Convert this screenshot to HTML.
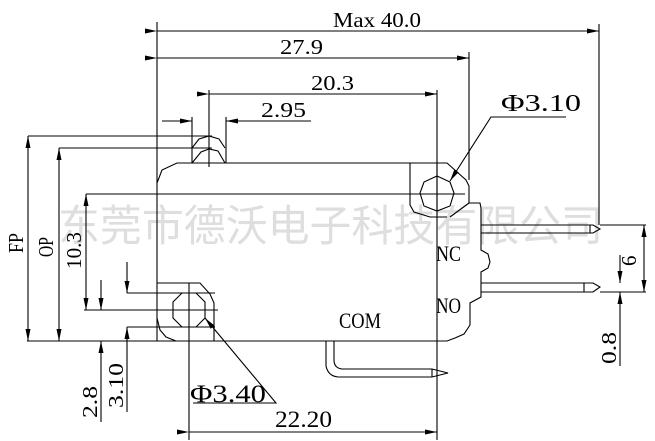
<!DOCTYPE html>
<html><head><meta charset="utf-8"><style>
html,body{margin:0;padding:0;background:#fff;}
svg{display:block;}
text{font-family:"Liberation Serif","Noto Serif CJK SC",serif;fill:#000;}
.w{font-family:"Liberation Sans","Noto Sans CJK SC",sans-serif;fill:#dedede;}
</style></head><body>
<svg width="655" height="441" viewBox="0 0 655 441" xmlns="http://www.w3.org/2000/svg">
<defs>
<marker id="a" viewBox="0 0 12 6" refX="12" refY="3" markerWidth="12" markerHeight="6" markerUnits="userSpaceOnUse" orient="auto"><path d="M0,0.5 L12,3 L0,5.5z" fill="#000"/></marker>
</defs>
<text class="w" x="58" y="241" font-size="43" textLength="545" lengthAdjust="spacingAndGlyphs">东莞市德沃电子科技有限公司</text>
<g stroke="#000" stroke-width="1.1" fill="none">
<line x1="157" y1="22" x2="157" y2="183"/>
<line x1="599" y1="24" x2="599" y2="225"/>
<line x1="157" y1="31" x2="599" y2="31" marker-start="url(#a)" marker-end="url(#a)"/>
<line x1="469" y1="52" x2="469" y2="180"/>
<line x1="157" y1="58" x2="469" y2="58" marker-start="url(#a)" marker-end="url(#a)"/>
<line x1="209" y1="90" x2="209" y2="167"/>
<line x1="437" y1="90" x2="437" y2="215"/>
<line x1="209" y1="94" x2="437" y2="94" marker-start="url(#a)" marker-end="url(#a)"/>
<line x1="162" y1="121" x2="192" y2="121" marker-end="url(#a)"/>
<line x1="311" y1="121" x2="226" y2="121" marker-end="url(#a)"/>
<line x1="192" y1="117" x2="192" y2="163"/>
<line x1="226" y1="117" x2="226" y2="163"/>
<path d="M192,148 L199,139 L209,136 L219,139 L225,148"/>
<path d="M192,163 L201,152 L209,149 L218,151 L225,163"/>
<path d="M157,341 L157,183 L162,170 L177,163 L447,163 L466,180 L469,186 L469,203 L480,203 L481,208 L481,250 L488,254 L490,262 L488,268 L481,272 L481,297 L470,303 L470,325 L464,334 L455,338 L447,341 Z"/>
<line x1="437" y1="163" x2="437" y2="440"/>
<path d="M410,163 L410,205 L414,212 L430,217 L447,217"/>
<path d="M450,217 L469,203"/>
<polygon points="437,176 450,182 454,193 450,206 437,211 424,206 420,193 424,182"/>
<line x1="86" y1="194" x2="465" y2="194"/>
<path d="M481,225 L593,225 L600,229 L593,233 L481,233"/>
<line x1="590" y1="225" x2="590" y2="233"/>
<path d="M481,283 L593,283 L600,287 L593,292 L481,292"/>
<line x1="584" y1="283" x2="584" y2="292"/>
<path d="M326,341 L326,366 Q328,376 338,377 L432,377 L448,373 L432,369 L342,369 Q334,368 334,360 L334,341"/>
<line x1="432" y1="369" x2="432" y2="377"/>
<line x1="600" y1="225" x2="646" y2="225"/>
<line x1="600" y1="292" x2="646" y2="292"/>
<line x1="644" y1="258" x2="644" y2="225" marker-end="url(#a)"/>
<line x1="644" y1="258" x2="644" y2="292" marker-end="url(#a)"/>
<line x1="620" y1="255" x2="620" y2="283" marker-end="url(#a)"/>
<line x1="620" y1="366" x2="620" y2="292" marker-end="url(#a)"/>
<path d="M157,283 L200,283 L210,294 L214,303 L214,341"/>
<path d="M157,318 L160,330 L166,337 L176,341"/>
<polygon points="182,293 196,293 205,302 205,318 196,327 182,327 173,318 173,302"/>
<line x1="189" y1="283" x2="189" y2="440"/>
<line x1="84" y1="310" x2="218" y2="310"/>
<line x1="127" y1="293" x2="215" y2="293"/>
<line x1="127" y1="327" x2="215" y2="327"/>
<line x1="28" y1="136" x2="212" y2="136"/>
<line x1="59" y1="148" x2="212" y2="148"/>
<line x1="27" y1="341" x2="437" y2="341"/>
<line x1="28" y1="240" x2="28" y2="136" marker-end="url(#a)"/>
<line x1="28" y1="240" x2="28" y2="341" marker-end="url(#a)"/>
<line x1="59" y1="240" x2="59" y2="148" marker-end="url(#a)"/>
<line x1="59" y1="240" x2="59" y2="341" marker-end="url(#a)"/>
<line x1="86" y1="250" x2="86" y2="194" marker-end="url(#a)"/>
<line x1="86" y1="250" x2="86" y2="310" marker-end="url(#a)"/>
<line x1="101" y1="280" x2="101" y2="310" marker-end="url(#a)"/>
<line x1="101" y1="422" x2="101" y2="341" marker-end="url(#a)"/>
<line x1="127" y1="262" x2="127" y2="293" marker-end="url(#a)"/>
<line x1="127" y1="412" x2="127" y2="327" marker-end="url(#a)"/>
<line x1="189" y1="432" x2="437" y2="432" marker-start="url(#a)" marker-end="url(#a)"/>
<path d="M193,403 L276,403 L205,318" marker-end="url(#a)"/>
<path d="M566,117 L491,117 L450,181" marker-end="url(#a)"/>
</g>
<g font-size="21">
<text x="333" y="27" textLength="88" lengthAdjust="spacingAndGlyphs">Max 40.0</text>
<text x="280" y="54" textLength="43" lengthAdjust="spacingAndGlyphs">27.9</text>
<text x="311" y="90" textLength="43" lengthAdjust="spacingAndGlyphs">20.3</text>
<text x="261" y="117" textLength="45" lengthAdjust="spacingAndGlyphs">2.95</text>
<text x="501" y="111" font-size="24" textLength="80" lengthAdjust="spacingAndGlyphs">Φ3.10</text>
<text x="190" y="402" font-size="25" textLength="76" lengthAdjust="spacingAndGlyphs">Φ3.40</text>
<text x="275" y="427" font-size="23" textLength="57" lengthAdjust="spacingAndGlyphs">22.20</text>
<text x="436" y="261" font-size="22" textLength="25" lengthAdjust="spacingAndGlyphs">NC</text>
<text x="436" y="313" font-size="22" textLength="25" lengthAdjust="spacingAndGlyphs">NO</text>
<text x="339" y="328" font-size="22" textLength="42" lengthAdjust="spacingAndGlyphs">COM</text>
<text transform="translate(23,253) rotate(-90)" textLength="20" lengthAdjust="spacingAndGlyphs">FP</text>
<text transform="translate(53,257) rotate(-90)" textLength="20" lengthAdjust="spacingAndGlyphs">OP</text>
<text transform="translate(81,269) rotate(-90)" textLength="37" lengthAdjust="spacingAndGlyphs">10.3</text>
<text transform="translate(97,418) rotate(-90)" textLength="32" lengthAdjust="spacingAndGlyphs">2.8</text>
<text transform="translate(123,408) rotate(-90)" textLength="45" lengthAdjust="spacingAndGlyphs">3.10</text>
<text transform="translate(616,364) rotate(-90)" textLength="32" lengthAdjust="spacingAndGlyphs">0.8</text>
<text transform="translate(636,266) rotate(-90)">6</text>
</g>
</svg>
</body></html>
